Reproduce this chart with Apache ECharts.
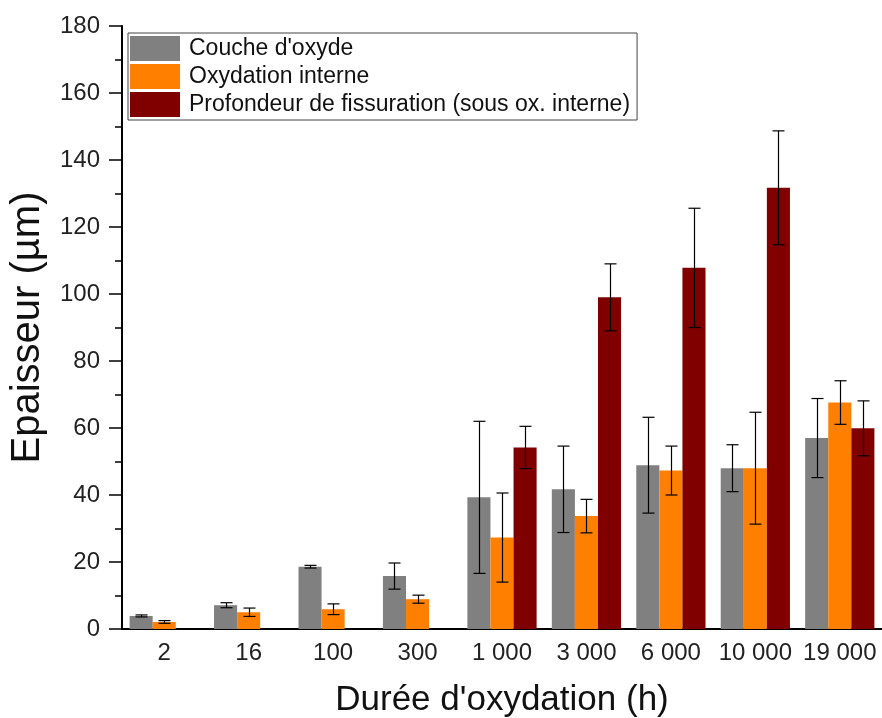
<!DOCTYPE html>
<html>
<head>
<meta charset="utf-8">
<script src="https://cdn.jsdelivr.net/npm/echarts@6/dist/echarts.min.js"></script>
<style>html,body{margin:0;padding:0;background:#fff}#c{width:882px;height:718px}</style>
</head>
<body>
<div id="c"></div>
<script>
const categories = ['2', '16', '100', '300', '1 000', '3 000', '6 000', '10 000', '19 000'];
const seriesNames = ["Couche d'oxyde", 'Oxydation interne', 'Profondeur de fissuration (sous ox. interne)'];
const oxideLayer = [3.9, 7.1, 18.6, 15.8, 39.3, 41.7, 48.9, 48.0, 57.0];
const oxideLayerErr = [0.3, 0.75, 0.4, 3.9, 22.7, 12.9, 14.3, 7.0, 11.8];
const internalOx = [2.1, 5.0, 5.9, 8.9, 27.3, 33.7, 47.3, 48.0, 67.6];
const internalOxErr = [0.4, 1.25, 1.6, 1.2, 13.3, 5.0, 7.3, 16.7, 6.5];
const crackDepth = [null, null, null, null, 54.2, 99.0, 107.8, 131.7, 59.9];
const crackDepthErr = [null, null, null, null, 6.3, 10.0, 17.8, 17.0, 8.2];
const yTicks = {min: 0, max: 180, interval: 20};

const colors = ['#808080', '#FF8000', '#800000'];
const GAP = 0.18;
const FONT = 'Liberation Sans, Arial, sans-serif';

const values = [oxideLayer, internalOx, crackDepth];
const errs = [oxideLayerErr, internalOxErr, crackDepthErr];

function errData(v, e) {
  const out = [];
  v.forEach((val, i) => {
    if (val != null && e[i] != null) out.push([i, val - e[i], val + e[i]]);
  });
  return out;
}

function makeErrSeries(k) {
  return {
    type: 'custom',
    name: seriesNames[k] + ' err',
    z: 5,
    encode: {x: 0, y: [1, 2]},
    data: errData(values[k], errs[k]),
    renderItem: function (params, api) {
      const cat = api.value(0), lo = api.value(1), hi = api.value(2);
      const band = api.size([1, 0])[0];
      const bw = band * (1 - GAP) / 3;
      const cx = Math.round(api.coord([cat, 0])[0] + (k - 1) * bw) + 0.5;
      const yt = api.coord([cat, hi])[1];
      const yb = api.coord([cat, lo])[1];
      const hw = 6;
      const st = {stroke: '#000', lineWidth: 1.2};
      return {
        type: 'group',
        children: [
          {type: 'line', shape: {x1: cx, y1: yt, x2: cx, y2: yb}, style: st},
          {type: 'line', shape: {x1: cx - hw, y1: yt, x2: cx + hw, y2: yt}, style: st},
          {type: 'line', shape: {x1: cx - hw, y1: yb, x2: cx + hw, y2: yb}, style: st}
        ]
      };
    }
  };
}

const chart = echarts.init(document.getElementById('c'), null, {renderer: 'canvas'});
const barSeries = values.map((v, k) => ({
  type: 'bar',
  name: seriesNames[k],
  data: v,
  barGap: '0%',
  barCategoryGap: (GAP * 100) + '%',
  itemStyle: {color: colors[k]}
}));

chart.setOption({
  animation: false,
  textStyle: {fontFamily: FONT},
  grid: {left: 122, right: 0, top: 26, bottom: 89, outerBoundsMode: 'none', containLabel: false},
  legend: {
    data: seriesNames,
    orient: 'vertical',
    left: 128,
    top: 33,
    icon: 'rect',
    itemWidth: 50,
    itemHeight: 25,
    itemGap: 3,
    padding: [3, 7, 3, 2],
    borderColor: '#444',
    borderWidth: 1,
    textStyle: {fontSize: 23, color: '#111', fontFamily: FONT, padding: [0, 0, 0, 4]}
  },
  xAxis: {
    type: 'category',
    data: categories,
    name: "Durée d'oxydation (h)",
    nameLocation: 'middle',
    nameGap: 54,
    nameTextStyle: {fontSize: 35, color: '#111', fontFamily: FONT},
    axisLine: {lineStyle: {color: '#000', width: 2}},
    axisTick: {show: false},
    axisLabel: {fontSize: 24, color: '#222', margin: 12, fontFamily: FONT, interval: 0, hideOverlap: false}
  },
  yAxis: {
    type: 'value',
    min: yTicks.min,
    max: yTicks.max,
    interval: yTicks.interval,
    name: 'Epaisseur (µm)',
    nameLocation: 'middle',
    nameGap: 74,
    nameTextStyle: {fontSize: 40, color: '#111', fontFamily: FONT},
    axisLine: {show: true, lineStyle: {color: '#000', width: 2}},
    axisTick: {show: true, inside: false, length: 13, lineStyle: {color: '#000', width: 1.5}},
    minorTick: {show: true, splitNumber: 2, length: 7, lineStyle: {color: '#000', width: 1.5}},
    splitLine: {show: false},
    axisLabel: {fontSize: 24, color: '#222', margin: 22, fontFamily: FONT}
  },
  series: barSeries.concat([0, 1, 2].map(makeErrSeries))
});
</script>
</body>
</html>
